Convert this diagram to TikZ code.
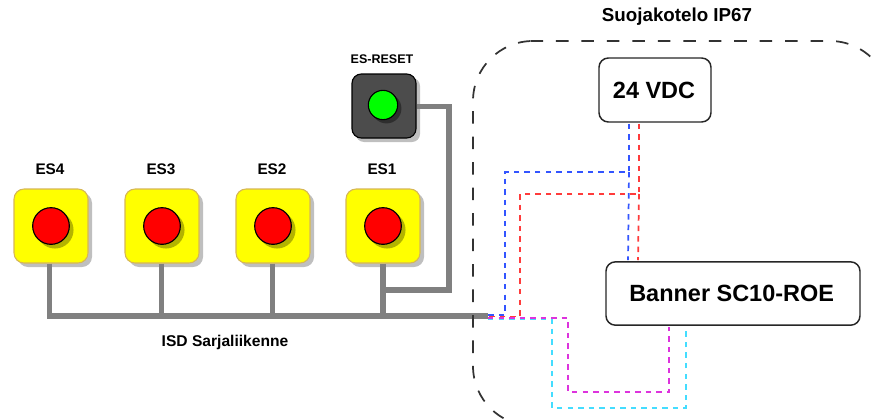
\documentclass[tikz,border=0pt]{standalone}
\usepackage{fontspec}
\setmainfont{Liberation Sans}
\definecolor{wire}{HTML}{808080}
\definecolor{wblue}{HTML}{3355FF}
\definecolor{wred}{HTML}{FF3B3B}
\definecolor{wpurple}{HTML}{DD33DD}
\definecolor{wcyan}{HTML}{44DDFF}
\definecolor{esedge}{HTML}{D6B656}
\definecolor{esfill}{HTML}{FFFF00}
\definecolor{esshade}{HTML}{B3B300}
\definecolor{encl}{HTML}{333333}
\tikzset{
  x=0.75pt,y=-0.75pt,
  esbox/.style={draw=#1,line width=0.8pt,rounded corners=7.5pt,minimum width=55.5pt,minimum height=55.5pt,inner sep=0pt},
  lbl/.style={font=\bfseries\fontsize{#1}{#1}\selectfont,text=black,inner sep=0pt},
  bus/.style={draw=wire,line width=4.4pt},
  sig/.style={line width=1.3pt,dash pattern=on 4.1pt off 3.8pt},
  psu/.style={draw=black!85,line width=1.1pt,rounded corners=7pt,fill=white,inner sep=0pt,outer sep=1.2pt},
  enc/.style={draw=encl,line width=1.3pt,dash pattern=on 9.4pt off 9.7pt},
}
\newcommand{\esbtn}[3]{%
  \fill[black!25,rounded corners=7.5pt] (#2-37+4,226-37+4) rectangle (#2+37+4,226+37+4);
  \node[esbox=esedge,fill=esfill] (#1box) at (#2,226) {};
  \fill[esshade] (#2+4,226+4) circle (13.9pt);
  \node[circle,draw=black,line width=0.85pt,fill=red,minimum size=27.5pt,inner sep=0pt] (#1btn) at (#2,226) {};
  \node[lbl=11.5pt] (#1lab) at (#2-1,#3) {#1};
}
\begin{document}
\begin{tikzpicture}
\useasboundingbox (0,0) rectangle (878,418);
\esbtn{ES4}{51}{169}
\esbtn{ES3}{162}{169}
\esbtn{ES2}{273}{169}
\esbtn{ES1}{383}{169}
% reset
\fill[black!25,rounded corners=6pt] (356,78) rectangle (420,142);
\node[draw=black,fill=black!70,line width=0.85pt,rounded corners=7pt,minimum size=48pt,inner sep=0pt] (rst) at (384,106) {};
\fill[black!82] (386.5,108.5) circle (11.2pt);
\node[circle,draw=black,line width=0.85pt,fill=green!100!blue,minimum size=22pt,inner sep=0pt] (rstbtn) at (383,105) {};
\node[lbl=9.4pt] (rstlab) at (382,59) {ES-RESET};
% junctions
\coordinate (busend) at (488,316);
\coordinate (busl) at (49.5,316);
\coordinate (bjes) at (383,290);
% bus
\draw[bus] (49.5,0 |- ES4box.south) -- (busl) -- (busend);
\draw[bus] (161.5,0 |- ES3box.south) -- (161.5,316);
\draw[bus] (272.5,0 |- ES2box.south) -- (272.5,316);
\draw[bus] (383,0 |- ES1box.south) -- (383,316);
\draw[bus] (rst.east |- 0,106.5) -- (449,106.5) -- (449,290) -- (bjes);
% enclosure (three pieces, to keep the dash phase of the reference)
\begin{scope}
\clip (0,0) rectangle (878,418);
\draw[enc] (473,302) -- (473,101) arc[start angle=180,end angle=90,radius=45pt] -- (530.5,41);
\draw[enc] (530.5,41) -- (830,41) arc[start angle=90,end angle=0,radius=45pt] -- (890,300);
\draw[enc] (473,315) -- (473,366) arc[start angle=180,end angle=270,radius=45pt] -- (700,426);
\end{scope}
% boxes
\node[psu,minimum width=84pt,minimum height=48pt,font=\bfseries\fontsize{17.6pt}{17.6pt}\selectfont] (vdc) at (655,90) {\hspace{-1.4pt}24 VDC};
\node[psu,minimum width=190.5pt,minimum height=47.5pt,font=\bfseries\fontsize{17.6pt}{17.6pt}\selectfont] (ban) at (733,293.5) {\hspace{-2pt}Banner SC10-ROE};
% signals
\draw[sig,wcyan] (busend) ++(0,3) -- (552,319) -- (552,408) -- (686,408) -- (686,0 |- ban.south);
\draw[sig,wpurple] (busend) ++(0,2) -- (568,318) -- (568,392) -- (669,392) -- (669,0 |- ban.south);
\draw[sig,wblue] (629,0 |- vdc.south) -- (629,172) -- (505,172) -- (505,315) -- (488,315);
\draw[sig,wblue] (629,172) -- (628,0 |- ban.north);
\draw[sig,wred] (639,0 |- vdc.south) -- (639,194) -- (520,194) -- (520,316.5) -- (488,316.5);
\draw[sig,wred] (639,194) -- (638,0 |- ban.north);
\node[lbl=14.07pt] (encl) at (677,17) {Suojakotelo IP67};
\node[lbl=11.7pt] (isd) at (225,342) {ISD Sarjaliikenne};
\end{tikzpicture}
\end{document}
